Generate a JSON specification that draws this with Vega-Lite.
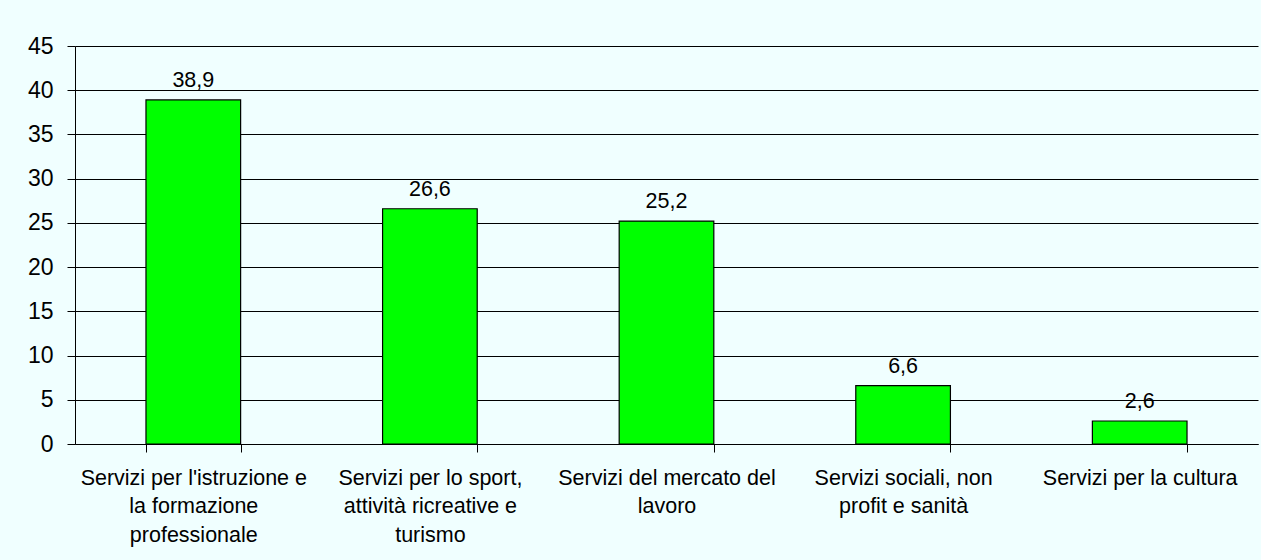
{
  "$schema": "https://vega.github.io/schema/vega-lite/v6.json",
  "autosize": "none",
  "width": 1183,
  "height": 398,
  "padding": {"left": 75, "top": 46, "right": 3, "bottom": 116},
  "background": "#F0FFFF",
  "config": {
    "locale": {"number": {"decimal": ",", "thousands": ".", "grouping": [3], "currency": ["", " €"]}},
    "font": "Liberation Sans",
    "view": {"stroke": null, "fill": "#F0FFFF"}
  },
  "data": {
    "values": [
      {"categoria": "Servizi per l'istruzione e la formazione professionale", "valore": 38.9},
      {"categoria": "Servizi per lo sport, attività ricreative e turismo", "valore": 26.6},
      {"categoria": "Servizi del mercato del lavoro", "valore": 25.2},
      {"categoria": "Servizi sociali, non profit e sanità", "valore": 6.6},
      {"categoria": "Servizi per la cultura", "valore": 2.6}
    ]
  },
  "encoding": {
    "x": {
      "field": "categoria",
      "type": "nominal",
      "sort": null,
      "title": null,
      "scale": {"paddingInner": 0.6, "paddingOuter": 0.3},
      "axis": {
        "labelAngle": 0,
        "labelFontSize": 21.5,
        "labelColor": "#000000",
        "labelLineHeight": 28.5,
        "labelPadding": 15,
        "labelBaseline": "top",
        "tickBand": "extent",
        "tickSize": 8,
        "tickColor": "#000000",
        "domainColor": "#000000",
        "labelLimit": 0,
        "labelExpr": "datum.value == \"Servizi per l'istruzione e la formazione professionale\" ? [\"Servizi per l'istruzione e\", \"la formazione\", \"professionale\"] : datum.value == \"Servizi per lo sport, attività ricreative e turismo\" ? [\"Servizi per lo sport,\", \"attività ricreative e\", \"turismo\"] : datum.value == \"Servizi del mercato del lavoro\" ? [\"Servizi del mercato del\", \"lavoro\"] : datum.value == \"Servizi sociali, non profit e sanità\" ? [\"Servizi sociali, non\", \"profit e sanità\"] : datum.value"
      }
    },
    "y": {
      "field": "valore",
      "type": "quantitative",
      "title": null,
      "scale": {"domain": [0, 45], "nice": false},
      "axis": {
        "values": [0, 5, 10, 15, 20, 25, 30, 35, 40, 45],
        "format": "d",
        "labelFontSize": 23,
        "labelColor": "#000000",
        "labelPadding": 14,
        "tickSize": 8,
        "tickColor": "#000000",
        "domainColor": "#000000",
        "gridColor": "#000000",
        "gridOpacity": 1,
        "grid": true
      }
    }
  },
  "layer": [
    {
      "mark": {"type": "bar", "fill": "#00FF00", "stroke": "#000000", "strokeWidth": 1.2}
    },
    {
      "mark": {"type": "text", "fontSize": 21.5, "color": "#000000", "dy": -13, "baseline": "alphabetic"},
      "encoding": {
        "text": {"field": "valore", "type": "quantitative", "format": ".1f"}
      }
    }
  ]
}
